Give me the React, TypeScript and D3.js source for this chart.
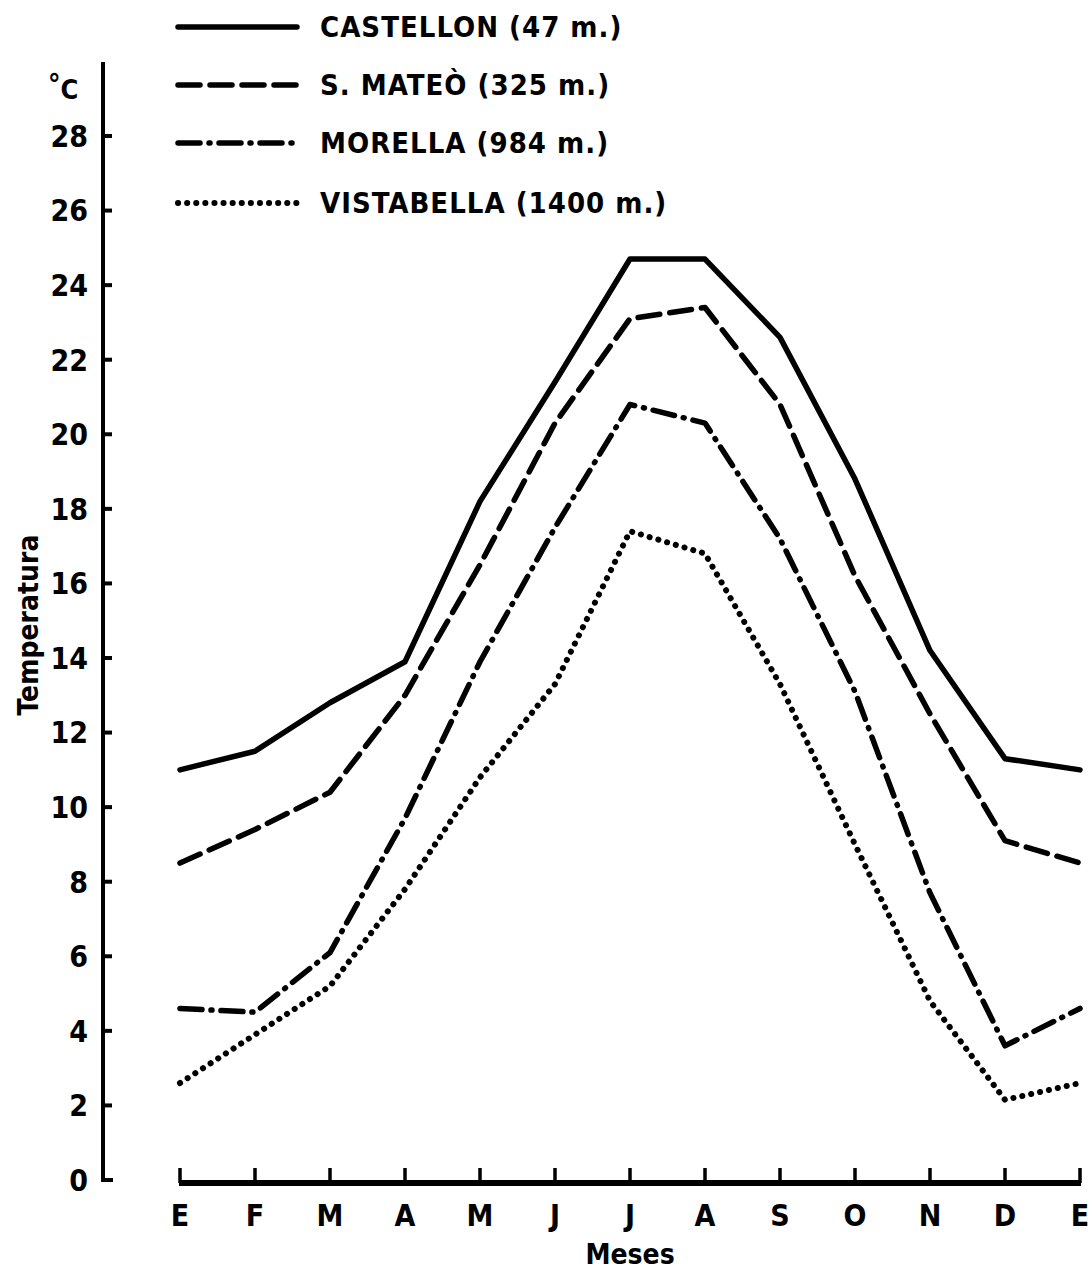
import React from "react";
import * as d3 from "d3";

const months = ["E", "F", "M", "A", "M", "J", "J", "A", "S", "O", "N", "D", "E"];
const yTicks = [0, 2, 4, 6, 8, 10, 12, 14, 16, 18, 20, 22, 24, 26, 28];

const castellon = [11.0, 11.5, 12.8, 13.9, 18.2, 21.4, 24.7, 24.7, 22.6, 18.8, 14.2, 11.3, 11.0];
const sMateo = [8.5, 9.4, 10.4, 13.0, 16.5, 20.3, 23.1, 23.4, 20.8, 16.2, 12.5, 9.1, 8.5];
const morella = [4.6, 4.5, 6.1, 9.7, 13.9, 17.5, 20.8, 20.3, 17.2, 13.1, 7.7, 3.6, 4.6];
const vistabella = [2.6, 3.9, 5.2, 7.8, 10.8, 13.3, 17.4, 16.8, 13.3, 9.0, 4.8, 2.15, 2.6];

const seriesNames = ["CASTELLON (47 m.)", "S. MATEÒ (325 m.)", "MORELLA (984 m.)", "VISTABELLA (1400 m.)"];
const seriesData = [castellon, sMateo, morella, vistabella];
const dashes = ["none", "22 10", "22 9 1 9", "0.1 9"];
const widths = [5.5, 5.5, 5.5, 6];

const W = 1089;
const H = 1272;
const FONT = "'DejaVu Sans Condensed', 'DejaVu Sans', sans-serif";

export default function App() {
  const x = d3.scaleLinear().domain([0, 12]).range([180, 1080]);
  const y = d3.scaleLinear().domain([0, 28]).range([1180, 136]);
  const line = d3
    .line<number>()
    .x((_, i) => x(i))
    .y((d) => y(d));

  const axisX = 103;
  const legendY = [27, 85, 143, 203];

  return (
    <svg
      width={W}
      height={H}
      style={{ position: "absolute", left: 0, top: 0, background: "#fff" }}
      fontFamily={FONT}
      fontWeight="bold"
    >
      <rect x={0} y={0} width={W} height={H} fill="#fff" />
      {/* Y axis */}
      <path
        d={`M${axisX},62 L${axisX},${y(0)} L${axisX + 10},${y(0)}`}
        fill="none"
        stroke="#000"
        strokeWidth={4}
      />
      {yTicks.map((t) => (
        <g key={t}>
          {t > 0 && (
            <line x1={axisX} x2={axisX + 9} y1={y(t)} y2={y(t)} stroke="#000" strokeWidth={4} />
          )}
          <text x={88} y={y(t)} dy="0.36em" textAnchor="end" fontSize={30}>
            {t}
          </text>
        </g>
      ))}
      <text x={48} y={94} fontSize={28} textAnchor="start">
        °
        <tspan fontSize={27} dx={0} dy={5}>C</tspan>
      </text>
      <text
        transform={`translate(38, 625) rotate(-90)`}
        textAnchor="middle"
        fontSize={28}
      >
        Temperatura
      </text>

      {/* X axis */}
      <line x1={x(0) - 1} x2={x(12) + 1} y1={y(0) + 3} y2={y(0) + 3} stroke="#000" strokeWidth={6} />
      {months.map((m, i) => (
        <g key={i}>
          <line x1={x(i)} x2={x(i)} y1={y(0) + 3} y2={y(0) - 12} stroke="#000" strokeWidth={3.5} />
          <text x={x(i)} y={1226} textAnchor="middle" fontSize={30}>
            {m}
          </text>
        </g>
      ))}
      <text x={630} y={1264} textAnchor="middle" fontSize={28}>
        Meses
      </text>

      {/* Series */}
      {seriesData.map((s, k) => (
        <path
          key={k}
          d={line(s) || ""}
          fill="none"
          stroke="#000"
          strokeWidth={widths[k]}
          strokeDasharray={dashes[k]}
          strokeLinecap="round"
          strokeLinejoin="round"
        />
      ))}

      {/* Legend */}
      {seriesNames.map((n, k) => (
        <g key={n}>
          <line
            x1={178}
            x2={297}
            y1={legendY[k]}
            y2={legendY[k]}
            stroke="#000"
            strokeWidth={widths[k]}
            strokeDasharray={dashes[k]}
            strokeLinecap="round"
          />
          <text x={320} y={legendY[k]} dy="0.36em" fontSize={29} letterSpacing={1}>
            {n}
          </text>
        </g>
      ))}
    </svg>
  );
}
